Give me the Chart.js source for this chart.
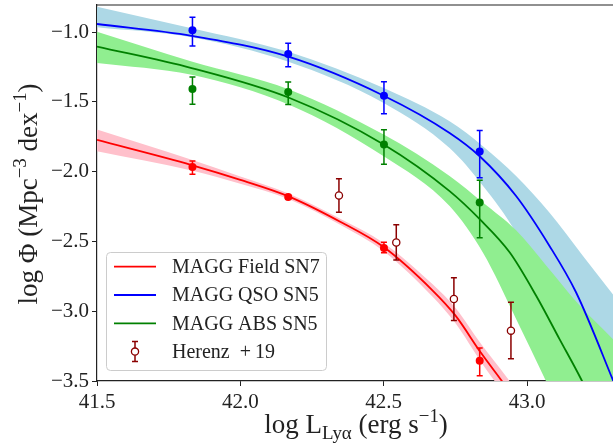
<!DOCTYPE html>
<html>
<head>
<meta charset="utf-8">
<script src="https://cdn.jsdelivr.net/npm/chart.js@4.4.0/dist/chart.umd.min.js"></script>
<style>
  html, body { margin: 0; padding: 0; background: #fff; overflow: hidden; }
  canvas { display: block; }
</style>
</head>
<body>
<canvas id="lfChart" width="613" height="445"></canvas>
<script>
// axis ticks
const xTicks = [41.5, 42.0, 42.5, 43.0];
const yTicks = [-3.5, -3.0, -2.5, -2.0, -1.5, -1.0];

// MAGG Field SN7 (red) fit + band
const fieldX = [41.5, 41.83, 42.0, 42.17, 42.35, 42.5, 42.67, 42.75, 42.84, 42.93, 42.97];
const fieldLine = [-1.772, -1.952, -2.058, -2.178, -2.36, -2.54, -2.85, -3.03, -3.30, -3.55, -3.67];
const fieldUpper = [-1.698, -1.915, -2.035, -2.158, -2.338, -2.51, -2.805, -2.975, -3.235, -3.475, -3.59];
const fieldLower = [-1.853, -1.992, -2.087, -2.198, -2.382, -2.57, -2.895, -3.085, -3.365, -3.625, -3.75];

// MAGG QSO SN5 (blue) fit + band
const qsoX = [41.5, 41.83, 42.165, 42.5, 42.73, 42.835, 42.962, 43.078, 43.171, 43.297, 43.33];
const qsoLine = [-0.941, -1.026, -1.174, -1.455, -1.722, -1.889, -2.174, -2.53, -2.864, -3.48, -3.65];
const qsoBandX = [41.5, 41.83, 42.165, 42.5, 42.73, 42.846, 42.962, 43.078, 43.194, 43.3];
const qsoUpper = [-0.817, -0.971, -1.139, -1.40, -1.639, -1.817, -2.031, -2.293, -2.60, -2.88];
const qsoLower = [-0.965, -1.036, -1.21, -1.507, -1.83, -2.10, -2.44, -2.95, -3.35, -3.75];

// MAGG ABS SN5 (green) fit + band
const absX = [41.5, 41.83, 42.17, 42.5, 42.73, 42.835, 42.94, 43.032, 43.113, 43.188, 43.22];
const absLine = [-1.103, -1.257, -1.47, -1.805, -2.139, -2.34, -2.579, -2.889, -3.198, -3.484, -3.62];
const absBandX = [41.5, 41.83, 42.17, 42.5, 42.73, 42.846, 42.962, 43.066, 43.18, 43.3];
const absUpper = [-0.996, -1.21, -1.41, -1.734, -2.03, -2.22, -2.42, -2.67, -2.95, -3.2];
const absLower = [-1.22, -1.305, -1.52, -1.889, -2.246, -2.579, -3.055, -3.5, -4.0, -4.5];

// binned data points
const maggX = [41.833, 42.167, 42.501, 42.835];
const fieldPts = [-1.966, -2.181, -2.546, -3.354];
const fieldHi = [-1.924, -2.166, -2.506, -3.264];
const fieldLo = [-2.019, -2.196, -2.58, -3.462];
const qsoPts = [-0.986, -1.157, -1.455, -1.855];
const qsoHi = [-0.893, -1.079, -1.355, -1.705];
const qsoLo = [-1.098, -1.248, -1.584, -2.043];
const absPts = [-1.407, -1.429, -1.805, -2.221];
const absHi = [-1.321, -1.357, -1.70, -2.062];
const absLo = [-1.517, -1.519, -1.946, -2.474];

// Herenz+19
const herenzX = [42.344, 42.544, 42.745, 42.944];
const herenzY = [-2.17, -2.507, -2.912, -3.139];
const herenzHi = [-2.05, -2.38, -2.76, -2.936];
const herenzLo = [-2.29, -2.633, -3.067, -3.341];

const FONT = "'Liberation Serif', 'DejaVu Serif', serif";
const TXT = '#222';

function xy(xs, ys) {
  return xs.map((x, i) => ({ x: x, y: ys[i] }));
}

function curve(label, xs, ys, color, order) {
  return {
    label: label, data: xy(xs, ys), borderColor: color, borderWidth: 1.8,
    pointRadius: 0, fill: false, cubicInterpolationMode: 'monotone', order: order, clip: 0
  };
}

function band(xs, ys, color, fill, order) {
  return {
    data: xy(xs, ys), borderWidth: 0, borderColor: 'transparent', backgroundColor: color,
    pointRadius: 0, fill: fill, cubicInterpolationMode: 'monotone', order: order, clip: 0
  };
}

function points(xs, ys, hi, lo, color, order) {
  return {
    data: xy(xs, ys), showLine: false, pointRadius: 4, pointBorderWidth: 0,
    pointBackgroundColor: color, borderColor: color, errHi: hi, errLo: lo, order: order
  };
}

const datasets = [
  band(qsoBandX, qsoUpper, '#add8e6', '+1', 10),
  band(qsoBandX, qsoLower, '#add8e6', false, 10),
  band(absBandX, absUpper, '#90ee90', '+1', 9),
  band(absBandX, absLower, '#90ee90', false, 9),
  band(fieldX, fieldUpper, '#ffc0cb', '+1', 8),
  band(fieldX, fieldLower, '#ffc0cb', false, 8),
  curve('MAGG QSO SN5', qsoX, qsoLine, '#0000ff', 5),
  curve('MAGG ABS SN5', absX, absLine, '#008000', 5),
  curve('MAGG Field SN7', fieldX, fieldLine, '#ff0000', 5),
  points(maggX, qsoPts, qsoHi, qsoLo, '#0000ff', 2),
  points(maggX, absPts, absHi, absLo, '#008000', 2),
  points(maggX, fieldPts, fieldHi, fieldLo, '#ff0000', 2),
  {
    data: xy(herenzX, herenzY), showLine: false, pointRadius: 3.6, pointBorderWidth: 1.3,
    pointBackgroundColor: '#ffffff', pointBorderColor: '#8b0000', borderColor: '#8b0000',
    errHi: herenzHi, errLo: herenzLo, order: 1
  }
];

// vertical error bars with caps, drawn just before each marker set
const errorBars = {
  id: 'errorBars',
  beforeDatasetDraw(chart, args) {
    const ds = chart.data.datasets[args.index];
    if (!ds.errHi) return;
    const ctx = chart.ctx;
    const xs = chart.scales.x, ys = chart.scales.y;
    ctx.save();
    ctx.strokeStyle = ds.borderColor;
    ctx.lineWidth = 1.5;
    ds.data.forEach((p, i) => {
      const px = xs.getPixelForValue(p.x);
      const y1 = ys.getPixelForValue(ds.errHi[i]);
      const y2 = ys.getPixelForValue(ds.errLo[i]);
      ctx.beginPath();
      ctx.moveTo(px, y1); ctx.lineTo(px, y2);
      ctx.moveTo(px - 3, y1); ctx.lineTo(px + 3, y1);
      ctx.moveTo(px - 3, y2); ctx.lineTo(px + 3, y2);
      ctx.stroke();
    });
    ctx.restore();
  }
};

// text with super/subscripts
function richText(ctx, parts, size) {
  let total = 0;
  parts.forEach(p => {
    const s = p.mode ? size * 0.7 : size;
    ctx.font = s + 'px ' + FONT;
    p.w = ctx.measureText(p.t).width;
    total += p.w;
  });
  let x = -total / 2;
  parts.forEach(p => {
    const s = p.mode ? size * 0.7 : size;
    const dy = p.mode === 'sup' ? -size * 0.4 : (p.mode === 'sub' ? size * 0.22 : 0);
    ctx.font = s + 'px ' + FONT;
    ctx.fillText(p.t, x, dy);
    x += p.w;
  });
}

const decorations = {
  id: 'decorations',
  afterDraw(chart) {
    const ctx = chart.ctx;
    const a = chart.chartArea;
    ctx.save();
    // top frame line
    ctx.strokeStyle = TXT;
    ctx.lineWidth = 1.2;
    ctx.beginPath();
    ctx.moveTo(a.left, a.top); ctx.lineTo(a.right, a.top);
    ctx.stroke();

    // axis titles
    ctx.fillStyle = TXT;
    ctx.textBaseline = 'alphabetic';
    ctx.textAlign = 'left';
    ctx.save();
    ctx.translate(356, 433);
    richText(ctx, [
      { t: 'log L' }, { t: 'Ly\u03b1', mode: 'sub' }, { t: ' (erg s' },
      { t: '\u22121', mode: 'sup' }, { t: ')' }
    ], 27);
    ctx.restore();
    ctx.save();
    ctx.translate(37, 194);
    ctx.rotate(-Math.PI / 2);
    richText(ctx, [
      { t: 'log \u03a6 (Mpc' }, { t: '\u22123', mode: 'sup' }, { t: ' dex' },
      { t: '\u22121', mode: 'sup' }, { t: ')' }
    ], 27);
    ctx.restore();

    // legend
    ctx.beginPath();
    ctx.roundRect(106.5, 252.5, 220, 118, 4);
    ctx.fillStyle = 'rgba(255,255,255,0.8)';
    ctx.fill();
    ctx.strokeStyle = '#cccccc';
    ctx.lineWidth = 1;
    ctx.stroke();
    const rows = [
      ['MAGG Field SN7', '#ff0000'],
      ['MAGG QSO SN5', '#0000ff'],
      ['MAGG ABS SN5', '#008000'],
      ['Herenz  +\u200919', null]
    ];
    ctx.font = '20px ' + FONT;
    ctx.textBaseline = 'middle';
    rows.forEach((r, i) => {
      const y = 266.7 + i * 28.3;
      if (r[1]) {
        ctx.strokeStyle = r[1];
        ctx.lineWidth = 1.8;
        ctx.beginPath();
        ctx.moveTo(114, y); ctx.lineTo(156, y);
        ctx.stroke();
      } else {
        ctx.strokeStyle = '#8b0000';
        ctx.lineWidth = 1.5;
        ctx.beginPath();
        ctx.moveTo(135, y - 10); ctx.lineTo(135, y + 10);
        ctx.moveTo(132, y - 10); ctx.lineTo(138, y - 10);
        ctx.moveTo(132, y + 10); ctx.lineTo(138, y + 10);
        ctx.stroke();
        ctx.beginPath();
        ctx.arc(135, y, 3.6, 0, Math.PI * 2);
        ctx.fillStyle = '#fff';
        ctx.fill();
        ctx.lineWidth = 1.3;
        ctx.stroke();
      }
      ctx.fillStyle = TXT;
      ctx.fillText(r[0], 172, y + 1);
    });
    ctx.restore();
  }
};

const tickFont = { family: FONT, size: 21 };

function noPad(axis) {
  axis.paddingTop = 0; axis.paddingBottom = 0;
  axis.paddingLeft = 0; axis.paddingRight = 0;
}

new Chart(document.getElementById('lfChart').getContext('2d'), {
  type: 'line',
  data: { datasets: datasets },
  options: {
    responsive: false,
    animation: false,
    devicePixelRatio: 1,
    layout: { autoPadding: false, padding: { top: 5, right: 0, left: 0, bottom: 0 } },
    plugins: { legend: { display: false }, tooltip: { enabled: false } },
    scales: {
      x: {
        type: 'linear', min: 41.5, max: 43.3,
        afterBuildTicks: axis => { axis.ticks = xTicks.map(v => ({ value: v })); },
        afterFit: axis => { axis.height = 64; noPad(axis); },
        ticks: { callback: v => v.toFixed(1), font: tickFont, color: TXT, padding: 4, maxRotation: 0, autoSkip: false },
        grid: { drawOnChartArea: false, drawTicks: true, tickLength: 5, color: TXT },
        border: { color: TXT, width: 1.2 }
      },
      y: {
        type: 'linear', min: -3.5, max: -0.805,
        afterBuildTicks: axis => { axis.ticks = yTicks.map(v => ({ value: v })); },
        afterFit: axis => { axis.width = 97; noPad(axis); },
        ticks: { callback: v => '\u2212' + Math.abs(v).toFixed(1), font: tickFont, color: TXT, padding: 3, autoSkip: false },
        grid: { drawOnChartArea: false, drawTicks: true, tickLength: 5, color: TXT },
        border: { color: TXT, width: 1.2 }
      }
    }
  },
  plugins: [errorBars, decorations]
});
</script>
</body>
</html>
